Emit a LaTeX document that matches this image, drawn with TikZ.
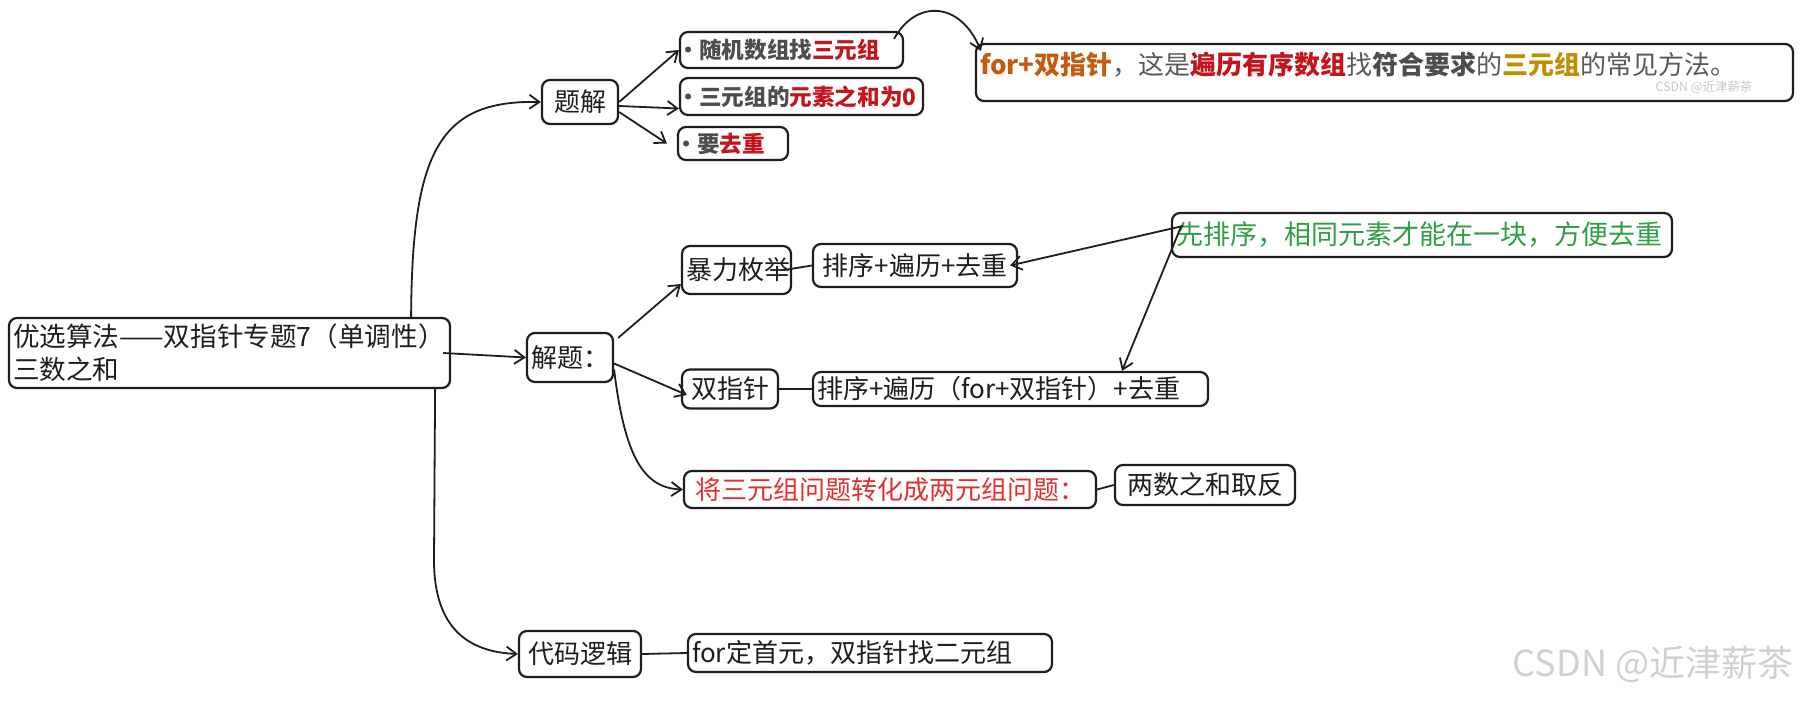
\documentclass[tikz,border=0pt]{standalone}
\usepackage{fontspec}
\newfontfamily\cjk{Noto Sans CJK SC}
\usetikzlibrary{arrows.meta}
\definecolor{ink}{HTML}{1E1E1E}
\definecolor{gtxt}{HTML}{4D4D4D}
\definecolor{rtxt}{HTML}{C3161C}
\definecolor{otxt}{HTML}{C55A11}
\definecolor{ytxt}{HTML}{BF8F00}
\definecolor{ltxt}{HTML}{595959}
\definecolor{grn}{HTML}{2F9E44}
\definecolor{redtwo}{HTML}{E03131}
\definecolor{wmk}{HTML}{D0D0D0}
\definecolor{wmksmall}{HTML}{C8C8C8}
\newcommand{\bul}{\raisebox{2.4pt}{\fontsize{7pt}{7pt}\selectfont$\bullet$}\hspace{3.5pt}}
\tikzset{
  box/.style={draw=ink, line width=1.1pt, rounded corners=4pt, inner xsep=2pt, inner ysep=0pt,
    align=center, text=ink, font=\cjk\fontsize{13pt}{16pt}\selectfont},
  bbox/.style={box, align=left, text=gtxt, font=\cjk\bfseries\fontsize{11.3pt}{13pt}\selectfont},
  arr/.style={draw=ink, line width=0.9pt, -{Straight Barb[length=5pt,width=7pt]}},
  link/.style={draw=ink, line width=0.9pt}
}
\begin{document}
\begin{tikzpicture}[x=0.5pt,y=-0.5pt]
\fill[white] (0,0) rectangle (1800,702);
\useasboundingbox (0,0) rectangle (1800,702);

% nodes
\node[box, align=left, text width=216.5pt, minimum height=35pt,
      font=\cjk\fontsize{13.3pt}{16.5pt}\selectfont] (root) at (229.5,353)
      {\mbox{优选算法——双指针专题7（单调性）}\\三数之和};
\node[box, text width=34pt, minimum height=22pt] (tj) at (580,102) {题解};
\node[bbox, text width=107.5pt, minimum height=18pt] (rand) at (791.5,50)
      {\bul 随机数组找\textcolor{rtxt}{三元组}};
\node[bbox, text width=117.5pt, minimum height=18.5pt] (sum) at (801.5,96.5)
      {\bul 三元组的\textcolor{rtxt}{元素之和为0}};
\node[bbox, text width=51pt, minimum height=16.5pt] (dedup) at (733,143.5)
      {\bul 要\textcolor{rtxt}{去重}};
\node[box, align=left, text width=404.5pt, text height=15.4pt, text depth=13.1pt,
      text=ltxt, font=\cjk\fontsize{13pt}{15pt}\selectfont] (forbox) at (1384.5,72.5)
      {\textcolor{otxt}{\bfseries for+双指针}，这是\textcolor{rtxt}{\bfseries 遍历有序数组}找{\bfseries\color{gtxt}符合要求}的\textcolor{ytxt}{\bfseries 三元组}的常见方法。};
\node[inner sep=0pt, text=wmksmall, font=\cjk\fontsize{6.2pt}{7pt}\selectfont] (wmone) at (1704,87)
      {CSDN @近津薪茶};

\node[box, text width=39pt, minimum height=24.5pt] (jt) at (570,357.5) {解题：};
\node[box, text width=50.5pt, minimum height=24pt] (bl) at (736.5,270) {暴力枚举};
\node[box, text width=98pt, minimum height=21.5pt] (sbq) at (915,265.5) {排序+遍历+去重};
\node[box, align=left, text width=246pt, minimum height=22pt, text=grn,
      font=\cjk\fontsize{13.5pt}{16pt}\selectfont] (xpx) at (1422,235)
      {先排序，相同元素才能在一块，方便去重};
\node[box, text width=44pt, minimum height=19.5pt] (szz) at (730,389) {双指针};
\node[box, align=left, text width=193.5pt, minimum height=17pt] (sbl) at (1010.5,389)
      {排序+遍历（for+双指针）+去重};
\node[box, text width=202pt, minimum height=18.5pt, text=redtwo] (njs) at (890,489.5)
      {将三元组问题转化成两元组问题：};
\node[box, text width=86pt, minimum height=20pt] (lsh) at (1205,485) {两数之和取反};
\node[box, text width=57pt, minimum height=23pt] (dml) at (580,654) {代码逻辑};
\node[box, align=left, text width=178pt, minimum height=19pt] (fdy) at (870,653)
      {for定首元，双指针找二元组};

\node[inner sep=0pt, text=wmk, font=\cjk\fontsize{18pt}{20pt}\selectfont] (wmtwo) at (1653,664)
      {CSDN @近津薪茶};

% connectors
\draw[arr] ([xshift=-20pt]root.north east) .. controls (412,150) and (440,100) .. (tj.west);
\draw[arr] ([xshift=-4pt]root.east) -- (jt.west);
\draw[arr] ([xshift=-8pt]root.south east) -- (434,560) .. controls (434,630) and (470,652) .. (dml.west);

\draw[arr] (tj.east) -- (rand.west);
\draw[arr] ([yshift=-2pt]tj.east) -- ([yshift=-6pt]sum.west);
\draw[arr] ([yshift=-5pt]tj.east) -- ([xshift=-5pt]dedup.west);
\draw[arr] ([xshift=-5pt,yshift=-4pt]rand.north east) .. controls (915,0) and (960,0) .. ([xshift=3pt,yshift=-4pt]forbox.north west);

\draw[arr] ([xshift=2pt,yshift=-3pt]jt.north east) -- ([yshift=-7pt]bl.west);
\draw[arr] ([yshift=-3pt]jt.east) -- ([xshift=3pt,yshift=-3pt]szz.west);
\draw[arr] ([yshift=-6pt]jt.east) .. controls (625,460) and (645,488) .. (njs.west);

\draw[link] (sbq.west) -- ([xshift=-4pt]bl.east);
\draw[arr] ([xshift=6pt,yshift=4.5pt]xpx.west) -- ([xshift=-4pt]sbq.east);
\draw[arr] ([xshift=5pt,yshift=4pt]xpx.west) -- ([xshift=55.75pt]sbl.north);
\draw[link] (szz.east) -- (sbl.west);
\draw[link] (njs.east) -- (lsh.west);
\draw[link] (dml.east) -- (fdy.west);
\end{tikzpicture}
\end{document}
